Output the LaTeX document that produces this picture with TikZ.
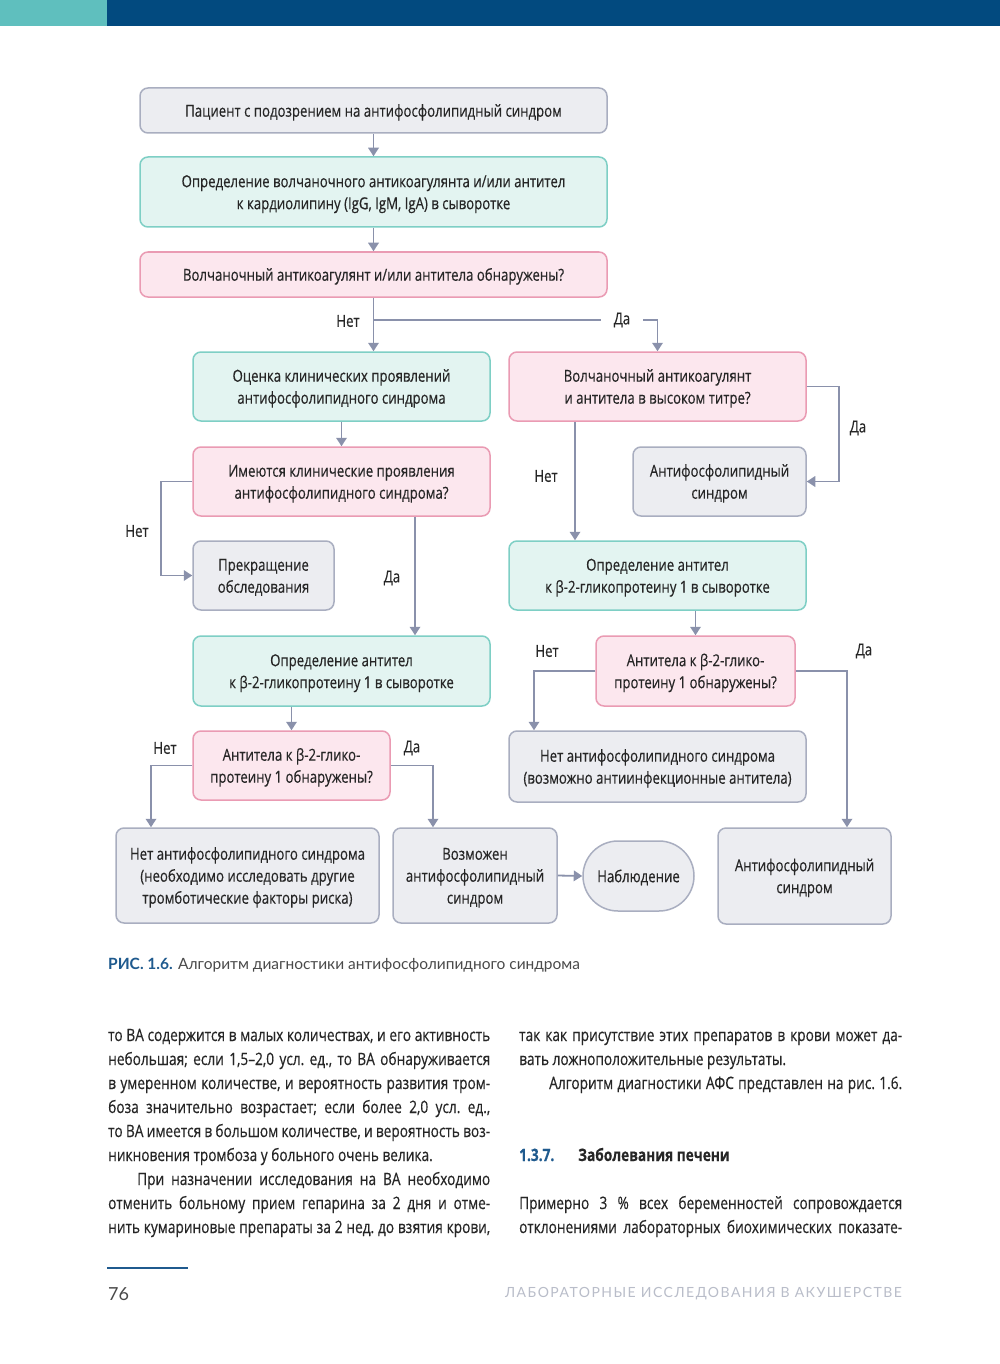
\documentclass[tikz,border=0pt]{standalone}
\usepackage{fontspec}
\setmainfont{Open Sans}[FakeStretch=0.8, FakeBold=0.4]
\newfontfamily\capfont{Lato}
\newfontfamily\footfont{Lato}[LetterSpace=10.5]
\usetikzlibrary{arrows.meta,shapes.misc}
\definecolor{hteal}{HTML}{5FBFBE}
\definecolor{hblue}{HTML}{024A7F}
\definecolor{grayf}{HTML}{ECEDF1}
\definecolor{grayb}{HTML}{A9AEC0}
\definecolor{tealf}{HTML}{E3F4F1}
\definecolor{tealb}{HTML}{7ECFC5}
\definecolor{pinkf}{HTML}{FCE7EE}
\definecolor{pinkb}{HTML}{EA9BB3}
\definecolor{arrc}{HTML}{8A91AB}
\definecolor{txt}{HTML}{262626}
\definecolor{capblue}{HTML}{1F5A8E}
\definecolor{capgray}{HTML}{4A4A4A}
\definecolor{footgray}{HTML}{B9BDC9}
\newcommand\bodyfont{\fontsize{17.1}{24}\selectfont\frenchspacing}
\newcommand\bt[1]{\raisebox{-1.8pt}[\height][\depth]{\begin{tabular}{@{}c@{}}#1\end{tabular}}}
\begin{document}
\begin{tikzpicture}[x=1pt,y=-1pt,
  box/.style={draw, line width=1.5pt, rounded corners=8pt, inner sep=0pt,
    font=\fontsize{16.5}{22}\selectfont\frenchspacing, text=txt},
  graybox/.style={box, draw=grayb, fill=grayf},
  tealbox/.style={box, draw=tealb, fill=tealf},
  pinkbox/.style={box, draw=pinkb, fill=pinkf},
  arr/.style={draw=arrc, line width=1.8pt, -{Triangle[width=10.5pt,length=8.5pt]}},
  ln/.style={draw=arrc, line width=1.8pt},
  lbl/.style={font=\fontsize{16.5}{20}\selectfont, text=txt, inner sep=0pt},
  bodytxt/.style={anchor=base west, inner sep=0pt, font=\bodyfont, text=txt}]
\useasboundingbox (0,0) rectangle (1000,1364);
\fill[white] (0,0) rectangle (1000,1364);
\fill[hteal] (0,0) rectangle (107,26);
\fill[hblue] (107,0) rectangle (1000,26);

% boxes
\node[graybox, minimum width=467pt, minimum height=45pt] (A) at (373.5,110.5) {\bt{Пациент с подозрением на антифосфолипидный синдром}};
\node[tealbox, minimum width=467pt, minimum height=70pt] (B) at (373.5,192) {\bt{Определение волчаночного антикоагулянта и/или антител\\к кардиолипину (IgG, IgM, IgA) в сыворотке}};
\node[pinkbox, minimum width=467pt, minimum height=45pt] (C) at (373.5,274.5) {\bt{Волчаночный антикоагулянт и/или антитела обнаружены?}};
\node[tealbox, minimum width=297pt, minimum height=69pt] (D) at (341.5,386.5) {\bt{Оценка клинических проявлений\\антифосфолипидного синдрома}};
\node[pinkbox, minimum width=297pt, minimum height=69pt] (E) at (657.5,386.5) {\bt{Волчаночный антикоагулянт\\и антитела в высоком титре?}};
\node[pinkbox, minimum width=297pt, minimum height=69pt] (F) at (341.5,481.5) {\bt{Имеются клинические проявления\\антифосфолипидного синдрома?}};
\node[graybox, minimum width=173pt, minimum height=69pt] (G) at (719.5,481.5) {\bt{Антифосфолипидный\\синдром}};
\node[graybox, minimum width=141pt, minimum height=69pt] (H) at (263.5,575.5) {\bt{Прекращение\\обследования}};
\node[tealbox, minimum width=297pt, minimum height=70pt] (I) at (341.5,671) {\bt{Определение антител\\к β-2-гликопротеину 1 в сыворотке}};
\node[tealbox, minimum width=297pt, minimum height=69pt] (J) at (657.5,575.5) {\bt{Определение антител\\к β-2-гликопротеину 1 в сыворотке}};
\node[pinkbox, minimum width=197pt, minimum height=69pt] (K) at (291.5,765.5) {\bt{Антитела к β-2-глико-\\протеину 1 обнаружены?}};
\node[pinkbox, minimum width=199pt, minimum height=70pt] (L) at (695.5,671) {\bt{Антитела к β-2-глико-\\протеину 1 обнаружены?}};
\node[graybox, minimum width=297pt, minimum height=71pt] (M) at (657.5,766.5) {\bt{Нет антифосфолипидного синдрома\\(возможно антиинфекционные антитела)}};
\node[graybox, minimum width=173pt, minimum height=96pt] (N) at (804.5,876) {\bt{Антифосфолипидный\\синдром}};
\node[graybox, minimum width=263pt, minimum height=95pt] (O) at (247.5,875.5) {\bt{Нет антифосфолипидного синдрома\\(необходимо исследовать другие\\тромботические факторы риска)}};
\node[graybox, minimum width=164pt, minimum height=95pt] (P) at (475,875.5) {\bt{Возможен\\антифосфолипидный\\синдром}};
\node[graybox, rounded rectangle, rounded corners=0pt, minimum width=111pt, minimum height=70pt] (Q) at (638.5,876) {\bt{Наблюдение}};

% labels
\node[lbl] (n1) at (348,321) {Нет};
\node[lbl, inner xsep=13pt] (d1) at (622,320) {Да};
\node[lbl] (d2) at (858,428) {Да};
\node[lbl] (n2) at (137,531) {Нет};
\node[lbl] (d3) at (392,578) {Да};
\node[lbl] (n3) at (546,476) {Нет};
\node[lbl] (n4) at (547,651) {Нет};
\node[lbl] (d4) at (864,651) {Да};
\node[lbl] (n5) at (165,748) {Нет};
\node[lbl] (d5) at (412,748) {Да};

% connectors
\draw[arr] (A.south) -- (B.north);
\draw[arr] (B.south) -- (C.north);
\draw[arr] (C.south) -- (C.south |- D.north);
\draw[ln] (C.south |- d1) -- (d1.west);
\draw[arr] (d1.east) -| (E.north);
\draw[arr] (D.south) -- (F.north);
\draw[arr] (E.east) -- ++(32,0) |- (G.east);
\draw[arr] ([xshift=-82.5pt]E.south) -- ([xshift=-82.5pt]J.north);
\draw[arr] (F.west) -- ++(-31,0) |- (H.west);
\draw[arr] ([xshift=73.5pt]F.south) -- ([xshift=73.5pt]I.north);
\draw[arr] (I.south -| K.north) -- (K.north);
\draw[arr] (J.south -| L.north) -- (L.north);
\draw[arr] (L.west) -| ([xshift=-123.5pt]M.north);
\draw[arr] (L.east) -| ([xshift=42.5pt]N.north);
\draw[arr] (K.west) -| ([xshift=-96.5pt]O.north);
\draw[arr] (K.east) -| ([xshift=-42pt]P.north);
\draw[arr] (P.east) -- (Q.west);

% caption
\node[anchor=base west, inner sep=0pt, font=\capfont\fontsize{15.5}{18}\selectfont, text=capgray] (cap) at (108,969)
  {\textcolor{capblue}{\bfseries РИС. 1.6.} Алгоритм диагностики антифосфолипидного синдрома};

% left column
\node[bodytxt] (l1) at (108,1041) {\makebox[382pt][s]{то ВА содержится в малых количествах, и его активность}};
\node[bodytxt] (l2) at (108,1065) {\makebox[382pt][s]{небольшая; если 1,5–2,0 усл. ед., то ВА обнаруживается}};
\node[bodytxt] (l3) at (108,1089) {\makebox[382pt][s]{в умеренном количестве, и вероятность развития тром-}};
\node[bodytxt] (l4) at (108,1113) {\makebox[382pt][s]{боза значительно возрастает; если более 2,0 усл. ед.,}};
\node[bodytxt] (l5) at (108,1137) {\makebox[382pt][s]{то ВА имеется в большом количестве, и вероятность воз-}};
\node[bodytxt] (l6) at (108,1161) {никновения тромбоза у больного очень велика.};
\node[bodytxt] (l7) at (137,1185) {\makebox[353pt][s]{При назначении исследования на ВА необходимо}};
\node[bodytxt] (l8) at (108,1209) {\makebox[382pt][s]{отменить больному прием гепарина за 2 дня и отме-}};
\node[bodytxt] (l9) at (108,1233) {\makebox[382pt][s]{нить кумариновые препараты за 2 нед. до взятия крови,}};

% right column
\node[bodytxt] (r1) at (519,1041) {\makebox[383pt][s]{так как присутствие этих препаратов в крови может да-}};
\node[bodytxt] (r2) at (519,1065) {вать ложноположительные результаты.};
\node[bodytxt] (r3) at (549,1089) {\makebox[353pt][s]{Алгоритм диагностики АФС представлен на рис. 1.6.}};
\node[bodytxt, font=\bodyfont\bfseries, text=capblue] (h1) at (519,1161) {1.3.7.};
\node[bodytxt, font=\bodyfont\bfseries] (h2) at (578,1161) {Заболевания печени};
\node[bodytxt] (r4) at (519,1209) {\makebox[383pt][s]{Примерно 3 \% всех беременностей сопровождается}};
\node[bodytxt] (r5) at (519,1233) {\makebox[383pt][s]{отклонениями лабораторных биохимических показате-}};

% footer
\draw[draw=capblue, line width=1.5pt] (107,1268) -- (188,1268);
\node[anchor=base west, inner sep=0pt, font=\capfont\fontsize{18}{20}\selectfont, text=capgray] (pg) at (108,1300) {76};
\node[anchor=base east, inner sep=0pt, font=\footfont\fontsize{14}{16}\selectfont, text=footgray] (ft) at (902,1297) {ЛАБОРАТОРНЫЕ ИССЛЕДОВАНИЯ В АКУШЕРСТВЕ};
\end{tikzpicture}
\end{document}
